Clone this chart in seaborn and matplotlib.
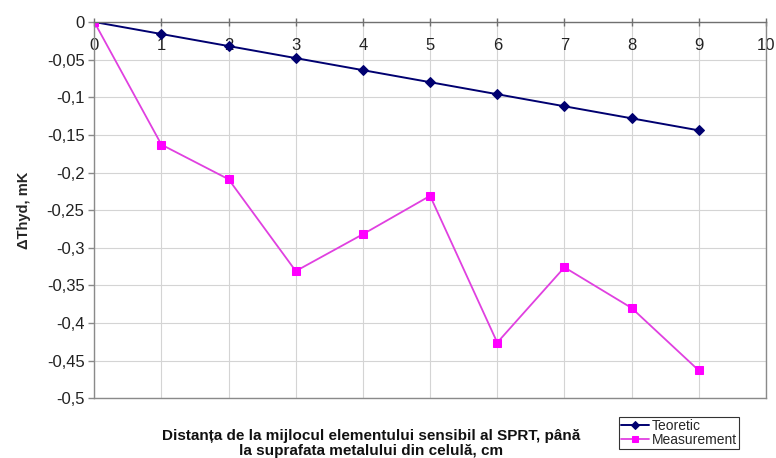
import matplotlib
matplotlib.use("Agg")
import matplotlib.pyplot as plt
import matplotlib.ticker as mticker
import pandas as pd
import seaborn as sns

# distance, cm
distance = [0, 1, 2, 3, 4, 5, 6, 7, 8, 9]
# delta T hyd, mK
teoretic = [0, -0.016, -0.032, -0.048, -0.064, -0.080, -0.096, -0.112, -0.128, -0.144]
measurement = [0, -0.163, -0.209, -0.331, -0.282, -0.231, -0.426, -0.326, -0.380, -0.463]

x_ticks = list(range(0, 11))
y_ticks = [0, -0.05, -0.1, -0.15, -0.2, -0.25, -0.3, -0.35, -0.4, -0.45, -0.5]

df_t = pd.DataFrame({"x": distance, "y": teoretic})
df_m = pd.DataFrame({"x": distance, "y": measurement})

sns.set_style("white")
plt.rcParams["font.family"] = ["Liberation Sans", "DejaVu Sans"]

fig = plt.figure(figsize=(7.76, 4.58), dpi=100)
ax = fig.add_axes([0.1215, 0.1304, 0.987 - 0.1215, 0.952 - 0.1304])

sns.lineplot(data=df_t, x="x", y="y", ax=ax, color="#000070", marker="D",
             markersize=5, markeredgecolor="#000070", linewidth=1.4, label="Teoretic")
sns.lineplot(data=df_m, x="x", y="y", ax=ax, color="#e040e0", marker="s",
             markersize=6, markerfacecolor="#ff00ff", markeredgecolor="#ff00ff",
             linewidth=1.3, label="Measurement")

ax.set_xlim(0, 10)
ax.set_ylim(-0.5, 0)
ax.set_xticks(x_ticks)
ax.set_yticks(y_ticks)
ax.yaxis.set_major_formatter(mticker.FuncFormatter(
    lambda v, p: ("%g" % round(v, 2)).replace(".", ",")))

ax.grid(True, color="#d4d4d4", linewidth=0.8)
for s in ax.spines.values():
    s.set_color("#8a8a8a")
    s.set_linewidth(1.0)
ax.spines["top"].set_color("#707070")

# x axis crosses at y=0 (top) with labels just under it
ax.xaxis.tick_top()
ax.tick_params(axis="x", top=True, bottom=False, labeltop=True, labelbottom=False,
               direction="inout", length=6, width=1, color="#707070",
               pad=-25, labelsize=12, labelcolor="#222222")
ax.tick_params(axis="y", left=True, direction="out", length=4, width=1,
               color="#8a8a8a", labelsize=12, labelcolor="#222222", pad=3)

ax.set_xlabel("")
ax.set_ylabel("ΔThyd, mK", fontsize=10.5, fontweight="bold", labelpad=11)
fig.text(0.478, 0.0, "Distanța de la mijlocul elementului sensibil al SPRT, până\n"
         "la suprafata metalului din celulă, cm",
         ha="center", va="bottom", fontsize=11, fontweight="bold",
         linespacing=1.1, color="#111111")

leg = ax.legend(loc="lower left", bbox_to_anchor=(619 / 776, 1 - 449 / 458),
                bbox_transform=fig.transFigure, frameon=True, fancybox=False,
                fontsize=10, handlelength=2.0, handletextpad=0.2,
                borderpad=0.15, labelspacing=0.0, borderaxespad=0)
leg.get_frame().set_edgecolor("#000000")
leg.get_frame().set_linewidth(0.8)
for h in leg.legend_handles:
    h.set_markersize(4)

fig.savefig("out.png", dpi=100)
